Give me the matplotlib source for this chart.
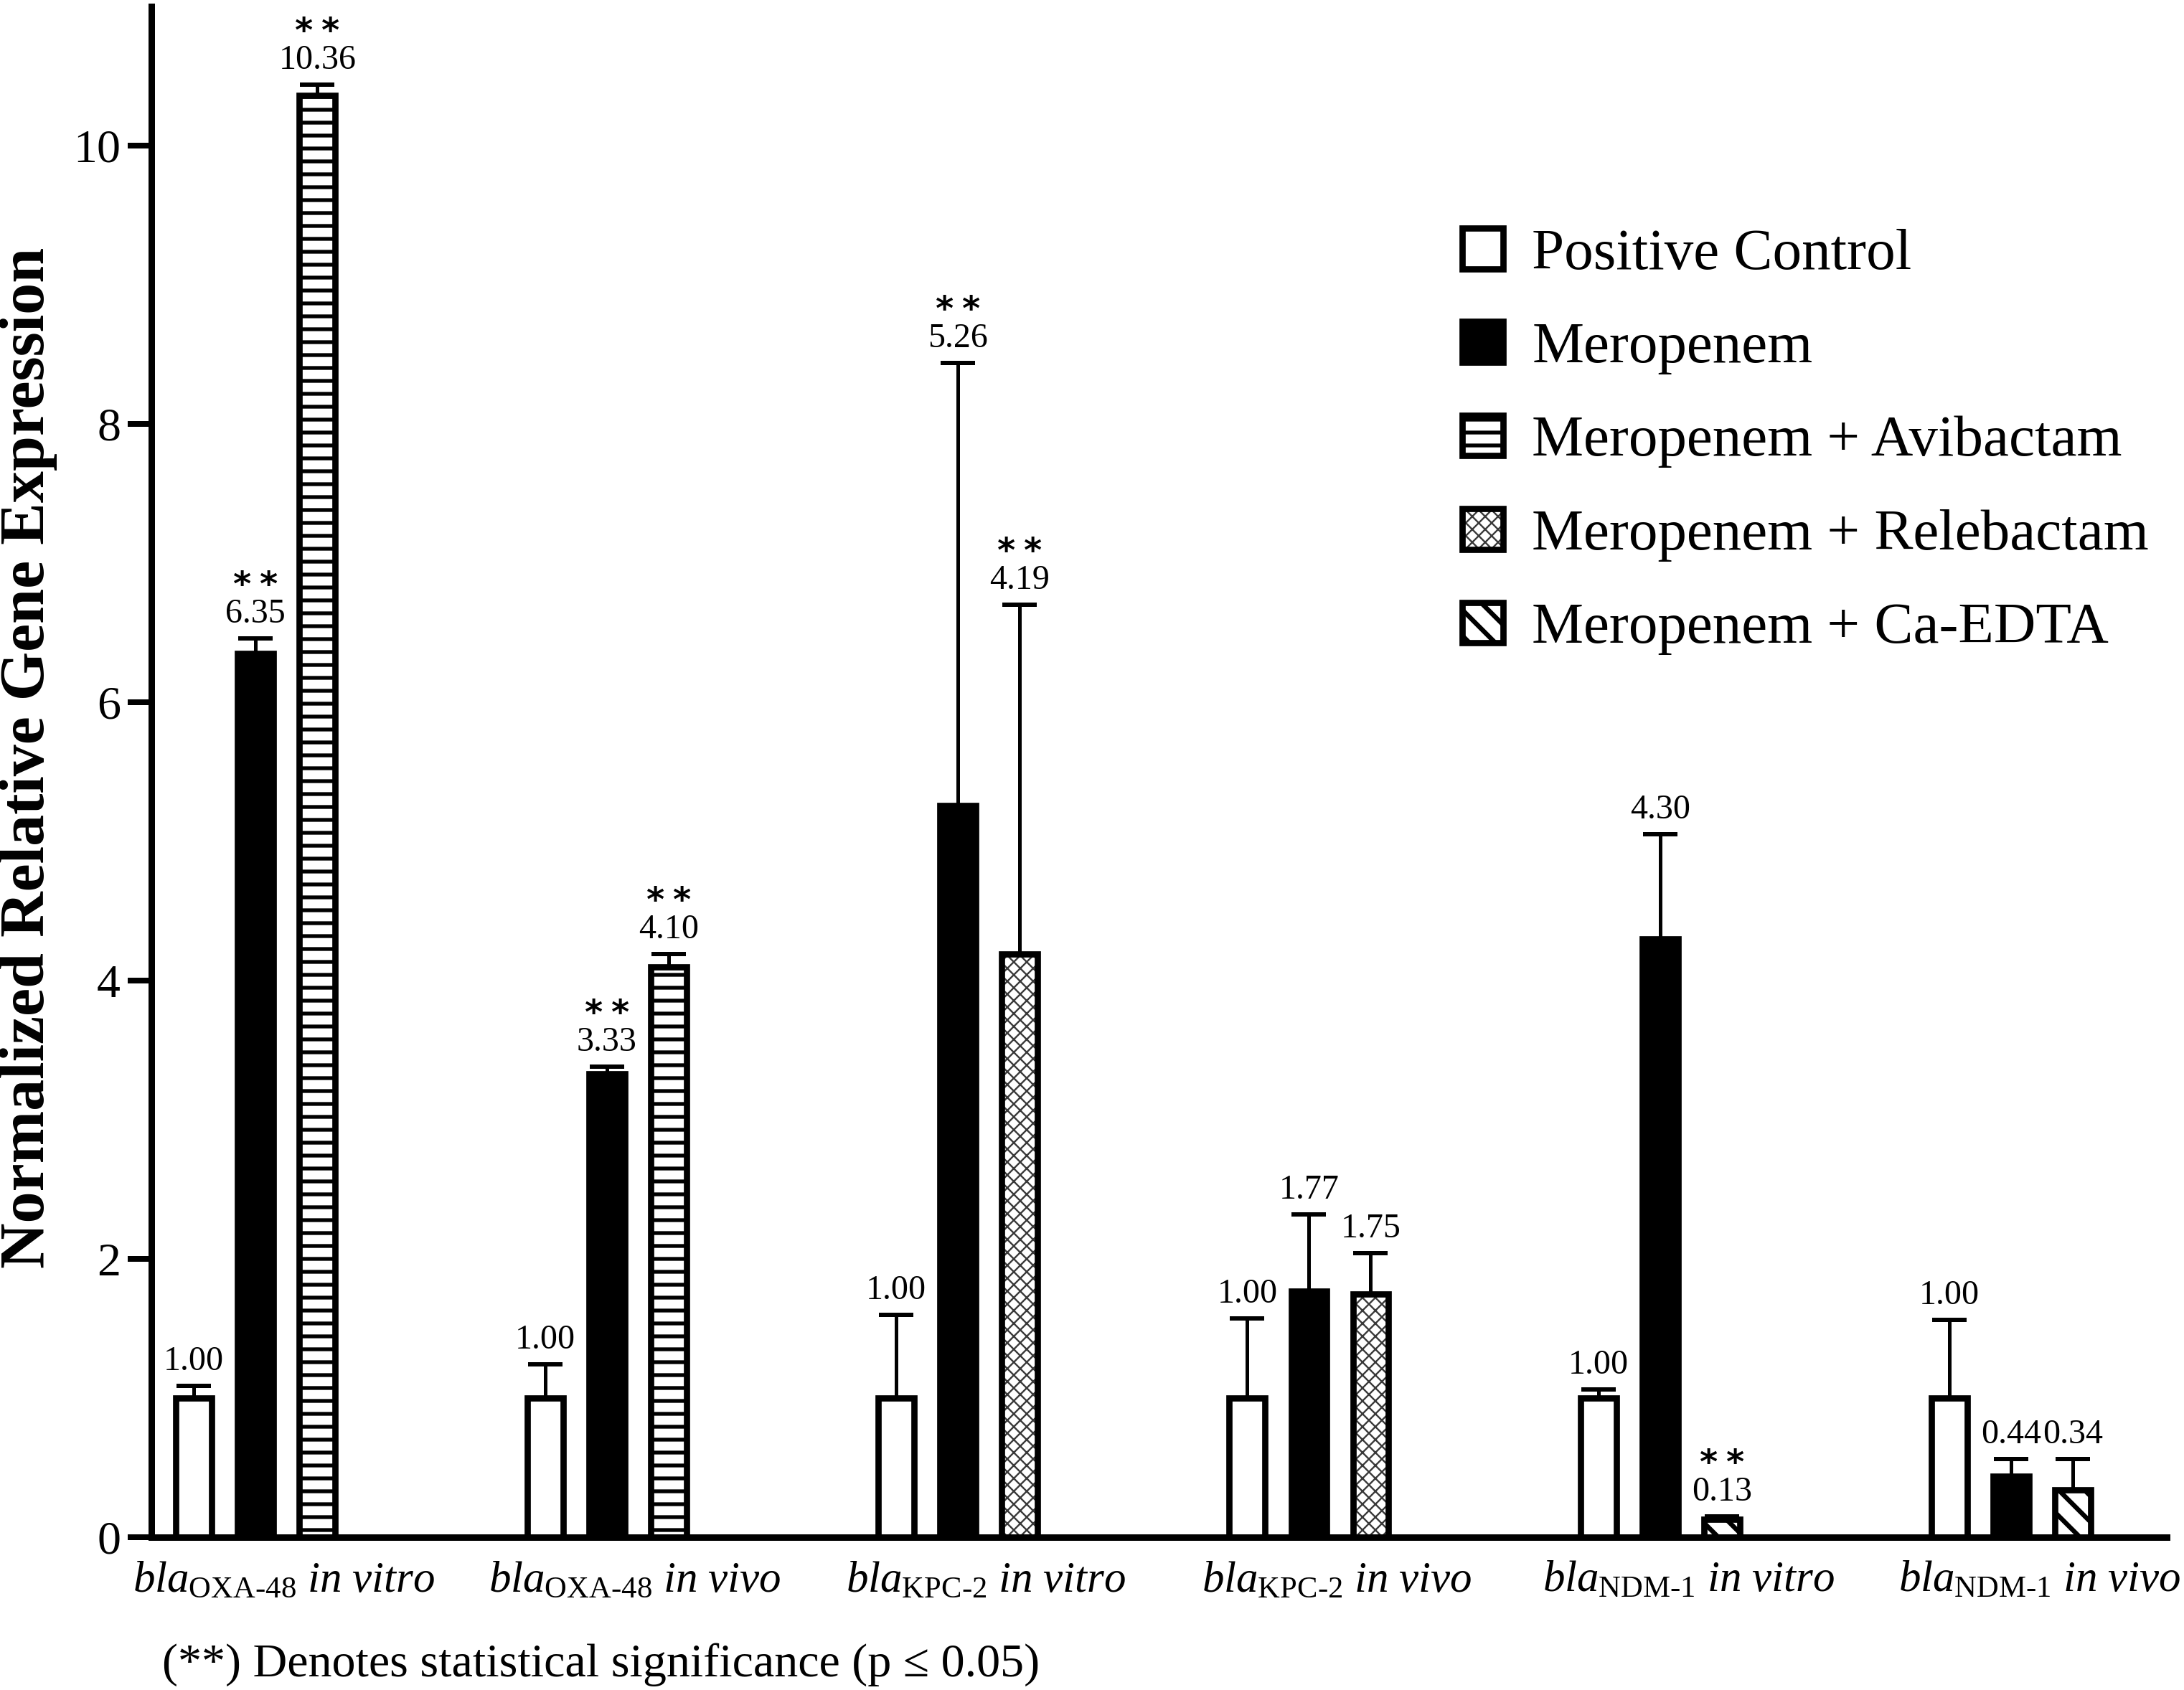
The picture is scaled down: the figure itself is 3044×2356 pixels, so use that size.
import numpy as np
import matplotlib
matplotlib.use('Agg')
import matplotlib.pyplot as plt
import matplotlib.patches as mpatches
from matplotlib.legend_handler import HandlerTuple

# ---- data ----
groups = [r'$\mathit{bla}_{\text{OXA-48}}\ \mathit{in\ vitro}$',
          r'$\mathit{bla}_{\text{OXA-48}}\ \mathit{in\ vivo}$',
          r'$\mathit{bla}_{\text{KPC-2}}\ \mathit{in\ vitro}$',
          r'$\mathit{bla}_{\text{KPC-2}}\ \mathit{in\ vivo}$',
          r'$\mathit{bla}_{\text{NDM-1}}\ \mathit{in\ vitro}$',
          r'$\mathit{bla}_{\text{NDM-1}}\ \mathit{in\ vivo}$']

pc_vals = [1.00, 1.00, 1.00, 1.00, 1.00, 1.00]
pc_err = [0.09, 0.24, 0.60, 0.57, 0.06, 0.56]
pc_sig = [False, False, False, False, False, False]

mero_vals = [6.35, 3.33, 5.26, 1.77, 4.30, 0.44]
mero_err = [0.11, 0.05, 3.18, 0.55, 0.75, 0.12]
mero_sig = [True, True, True, False, False, False]

combo_vals = [10.36, 4.10, 4.19, 1.75, 0.13, 0.34]
combo_err = [0.08, 0.09, 2.51, 0.29, 0.02, 0.22]
combo_sig = [True, True, True, False, True, False]
combo_kind = ['Avibactam', 'Avibactam', 'Relebactam', 'Relebactam', 'Ca-EDTA', 'Ca-EDTA']

legend_labels = ['Positive Control', 'Meropenem', 'Meropenem + Avibactam',
                 'Meropenem + Relebactam', 'Meropenem + Ca-EDTA']
yticks = [0, 2, 4, 6, 8, 10]

DPI = 108
W, H = 3044, 2356


def px(v):
    # pixels -> points
    return v * 72 / DPI


plt.rcParams['font.family'] = ['Liberation Serif', 'DejaVu Serif']
plt.rcParams['mathtext.fontset'] = 'custom'
plt.rcParams['mathtext.rm'] = 'Liberation Serif'
plt.rcParams['mathtext.it'] = 'Liberation Serif:italic'
plt.rcParams['mathtext.bf'] = 'Liberation Serif:bold'
plt.rcParams['mathtext.sf'] = 'DejaVu Sans:bold'
plt.rcParams['hatch.linewidth'] = px(5.5)

fig = plt.figure(figsize=(W / DPI, H / DPI), dpi=DPI)
ax = fig.add_axes([211 / W, 1 - 2143 / H, (3020 - 211) / W, (2143 - 9) / H])

x = np.arange(len(groups))
step = 0.1758
width = 0.102
edge = px(8.7)
err_kw = dict(fmt='none', ecolor='black', elinewidth=px(5), capsize=px(24),
              capthick=px(6), zorder=1.5)

# hatch line widths per pattern
hatch_lw = {'-': px(5.3), '//\\\\': px(2.4), '\\': px(6.5)}


def wrap_hatch(p):
    lw = hatch_lw.get(p.get_hatch())
    if lw is None:
        return
    if hasattr(p, 'set_hatch_linewidth'):
        p.set_hatch_linewidth(lw)
    p._hatch_linewidth = lw
    orig = p.draw

    def draw(renderer, _orig=orig, _lw=lw):
        with plt.rc_context({'hatch.linewidth': _lw}):
            _orig(renderer)
    p.draw = draw


def labels_for(xs, vals, errs, sig):
    for xi, v, e, s in zip(xs, vals, errs, sig):
        txt = f'$\\mathsf{{*\\,*}}$\n{v:.2f}' if s else f'{v:.2f}'
        ax.annotate(txt, (xi, v + e), xytext=(0, px(22)),
                    textcoords='offset points', ha='center', va='baseline',
                    fontsize=px(48), linespacing=0.88)


# positive control
xp = x - step
pc = ax.bar(xp, pc_vals, width, color='white', edgecolor='black', linewidth=edge, zorder=2)
ax.errorbar(xp, pc_vals, yerr=[np.zeros(len(x)), pc_err], **err_kw)
labels_for(xp, pc_vals, pc_err, pc_sig)

# meropenem
xm = x
mero = ax.bar(xm, mero_vals, width, color='black', edgecolor='black', linewidth=edge, zorder=2)
ax.errorbar(xm, mero_vals, yerr=[np.zeros(len(x)), mero_err], **err_kw)
labels_for(xm, mero_vals, mero_err, mero_sig)

# combinations
xc = x + step
combo_vals = np.array(combo_vals)
combo_err = np.array(combo_err)
kind = np.array(combo_kind)

sel = kind == 'Avibactam'
avib = ax.bar(xc[sel], combo_vals[sel], width, color='white', edgecolor='black',
              linewidth=edge, hatch='-', zorder=2)

sel = kind == 'Relebactam'
rel_h = ax.bar(xc[sel], combo_vals[sel], width, color='white', edgecolor='#3a3a3a',
               linewidth=0, hatch='//\\\\', zorder=2)
rel_e = ax.bar(xc[sel], combo_vals[sel], width, fill=False, edgecolor='black',
               linewidth=edge, zorder=2.1)

sel = kind == 'Ca-EDTA'
edta = ax.bar(xc[sel], combo_vals[sel], width, color='white', edgecolor='black',
              linewidth=edge, hatch='\\', zorder=2)

ax.errorbar(xc, combo_vals, yerr=[np.zeros(len(x)), combo_err], **err_kw)
labels_for(xc, combo_vals, combo_err, combo_sig)

# axes styling
ax.set_xlim(-0.297, 5.443)
ax.set_ylim(0, 11)
ax.set_yticks(yticks)
ax.set_xticks(x + 0.08)
ax.set_xticklabels(groups)
for s in ['top', 'right']:
    ax.spines[s].set_visible(False)
for s in ['left', 'bottom']:
    ax.spines[s].set_linewidth(px(9))
ax.tick_params(axis='y', length=px(33), width=px(8), pad=px(10), labelsize=px(66))
ax.tick_params(axis='x', length=0, pad=px(33), labelsize=px(61))

fig.text(40 / W, 1 - 1056 / H, 'Normalized Relative Gene Expression', rotation=90,
         fontweight='bold', fontsize=px(88), ha='center', va='center')

handles = [pc[0], mero[0], avib[0], (rel_h[0], rel_e[0]), edta[0]]
leg = ax.legend(handles, legend_labels, handler_map={tuple: HandlerTuple(ndivide=1, pad=0)},
                loc='upper left', bbox_to_anchor=(2038 / W, 1 - 318 / H),
                bbox_transform=fig.transFigure, frameon=False, fontsize=px(81),
                handlelength=0.7, handleheight=0.7, handletextpad=0.5, labelspacing=0.70,
                borderpad=0, borderaxespad=0)

for p in ax.patches:
    wrap_hatch(p)
for p in leg.findobj(mpatches.Rectangle):
    wrap_hatch(p)

fig.text(226 / W, 1 - 2337 / H, '(**) Denotes statistical significance (p \u2264 0.05)',
         fontsize=px(66), ha='left', va='baseline')

fig.savefig('out.png', dpi=DPI)
